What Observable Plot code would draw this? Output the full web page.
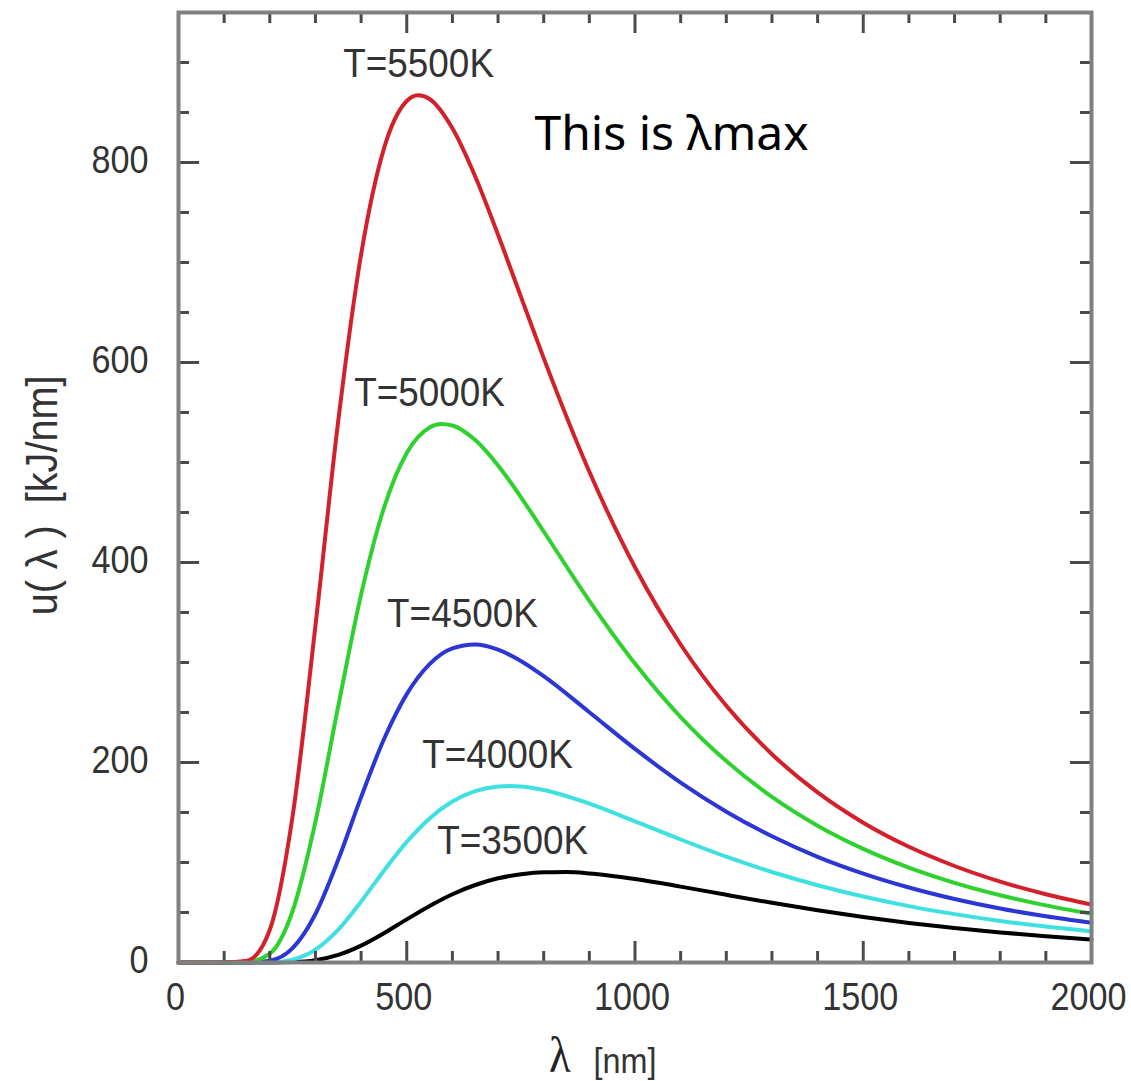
<!DOCTYPE html>
<html><head><meta charset="utf-8">
<script src="https://cdn.jsdelivr.net/npm/d3@7"></script>
<script src="https://cdn.jsdelivr.net/npm/@observablehq/plot@0.6"></script>
<style>body{margin:0;background:#fff} #chart{width:1131px;height:1081px;overflow:hidden}</style>
</head><body><div id="chart"></div>
<script>
// wavelength grid (nm)
const lambda = [0,100,150,200,250,300,350,400,450,500,550,600,650,700,750,800,900,1000,1100,1200,1300,1400,1500,1600,1700,1800,1900,2000];
// spectral energy density u(λ) [kJ/nm]
const u5500 = [0,0,1.8,32.7,146.5,336.8,541.9,708.0,813.9,861.5,863.5,834.2,786.0,727.7,665.9,604.4,490.8,395.2,318.0,256.7,208.3,170.1,139.8,115.7,96.5,80.9,68.3,58.0];
const u5000 = [0,0,0.3,8.8,51.5,140.8,256.5,367.9,454.5,509.5,535.0,537.0,522.4,497.0,465.4,431.0,361.7,298.9,245.4,201.4,165.6,136.8,113.6,94.8,79.6,67.2,57.1,48.7];
const u4500 = [0,0,0,1.8,14.3,48.5,102.9,165.4,223.2,268.4,298.4,314.1,318.0,312.9,301.6,286.4,250.3,213.6,179.9,150.8,126.2,105.7,88.9,75.0,63.5,54.0,46.2,39.7];
const u4000 = [0,0,0,0.2,2.9,12.8,32.8,60.9,91.8,120.6,144.1,161.0,171.4,176.0,176.0,172.5,158.9,141.2,123.0,105.8,90.5,77.3,66.0,56.4,48.4,41.6,35.9,31.1];
const u3500 = [0,0,0,0,0.4,2.3,7.6,16.9,29.3,43.1,56.5,68.3,77.5,84.2,88.3,90.3,89.1,83.5,75.9,67.7,59.7,52.2,45.5,39.6,34.5,30.1,26.3,23.0];
// extra points read at the peaks
const peakT = ["T=5500K","T=5000K","T=4000K","T=3500K"];
const peakLambda = [525,575,725,850];
const peakU = [867.2,538.5,176.5,90.4];

const seriesNames = ["T=3500K","T=4000K","T=4500K","T=5000K","T=5500K"];
const seriesValues = [u3500,u4000,u4500,u5000,u5500];
const seriesColors = ["#000000","#3ee0e2","#2b36d4","#2fd12f","#d2212b"];
const labelLambda = [732,699,622,550,526];

const xMajor = [0,500,1000,1500,2000];
const xMinor = [100,200,300,400,600,700,800,900,1100,1200,1300,1400,1600,1700,1800,1900];
const yMajor = [0,200,400,600,800];
const yMinor = [50,100,150,250,300,350,450,500,550,650,700,750,850,900];

const W = 1131, H = 1081, mL = 178, mR = 40, mT = 12, mB = 119;
const innerW = W - mL - mR, innerH = H - mT - mB;
const majorLen = 21, minorLen = 11;
const tickStyle = {stroke: "#4a4a4a", strokeWidth: 3};
const sans = "'Liberation Sans', Arial, Helvetica, sans-serif";

const curves = seriesNames.map((name, k) => {
  const pts = lambda.map((l, i) => ({x: l, y: seriesValues[k][i]}));
  peakT.forEach((t, j) => { if (t === name) pts.push({x: peakLambda[j], y: peakU[j]}); });
  pts.sort((a, b) => a.x - b.x);
  return pts;
});

const labels = seriesNames.map((name, k) => ({
  text: name, x: labelLambda[k], y: d3.max(curves[k], d => d.y)
}));

const marks = [];
curves.forEach((pts, k) => {
  marks.push(Plot.line(pts, {x: "x", y: "y", stroke: seriesColors[k], strokeWidth: 4, curve: "monotone-x"}));
});
// inward ticks on four sides
marks.push(Plot.tickX(xMinor, {x: d => d, insetTop: innerH - minorLen, ...tickStyle}));
marks.push(Plot.tickX(xMajor, {x: d => d, insetTop: innerH - majorLen, ...tickStyle}));
marks.push(Plot.tickX(xMinor, {x: d => d, insetBottom: innerH - minorLen, ...tickStyle}));
marks.push(Plot.tickX(xMajor, {x: d => d, insetBottom: innerH - majorLen, ...tickStyle}));
marks.push(Plot.tickY(yMinor, {y: d => d, insetRight: innerW - minorLen, ...tickStyle}));
marks.push(Plot.tickY(yMajor, {y: d => d, insetRight: innerW - majorLen, ...tickStyle}));
marks.push(Plot.tickY(yMinor, {y: d => d, insetLeft: innerW - minorLen, ...tickStyle}));
marks.push(Plot.tickY(yMajor, {y: d => d, insetLeft: innerW - majorLen, ...tickStyle}));
marks.push(Plot.frame({stroke: "#808080", strokeWidth: 4}));
// tick labels
marks.push(Plot.axisX(xMajor, {anchor: "bottom", tickSize: 0, tickPadding: 21, tickFormat: d => String(d), fontSize: 38, fontFamily: sans, fill: "#333", label: null, dx: -3}));
marks.push(Plot.axisY(yMajor, {anchor: "left", tickSize: 0, tickPadding: 30, tickFormat: d => String(d), fontSize: 38, fontFamily: sans, fill: "#333", label: null, dy: -2}));
// axis titles
marks.push(Plot.text(["u( λ )  [kJ/nm]"], {frameAnchor: "left", textAnchor: "middle", rotate: -90, dx: -136, dy: 8, fontSize: 44, fontFamily: sans, fill: "#333"}));
marks.push(Plot.text(["λ"], {frameAnchor: "bottom", textAnchor: "middle", dx: -75, dy: 109, lineAnchor: "bottom", fontSize: 50, fontFamily: "'Liberation Serif', 'DejaVu Serif', serif", fill: "#222"}));
marks.push(Plot.text(["[nm]"], {frameAnchor: "bottom", textAnchor: "middle", dx: -10, dy: 110, lineAnchor: "bottom", fontSize: 36, fontFamily: sans, fill: "#333"}));
// curve labels
marks.push(Plot.text(labels, {x: "x", y: "y", text: "text", dy: -31, fontSize: 41, fontFamily: sans, fill: "#333"}));
// annotation
marks.push(Plot.text(["This is λmax"], {frameAnchor: "top-left", dx: 356, dy: 137, textAnchor: "start", lineAnchor: "bottom", fontSize: 48, fontFamily: "'Noto Sans', 'Open Sans', sans-serif", fill: "#000"}));

const plot = Plot.plot({
  width: W, height: H,
  marginLeft: mL, marginRight: mR, marginTop: mT, marginBottom: mB,
  x: {domain: [0, 2000], axis: null},
  y: {domain: [0, 950], axis: null},
  style: {background: "#fff", fontFamily: sans},
  marks
});

// horizontally condense the Helvetica-like texts around their anchor, as in the reference
plot.querySelectorAll("text").forEach(t => {
  if (t.textContent.startsWith("This")) return;
  const tr = t.getAttribute("transform") || "";
  t.setAttribute("transform", `${tr} scale(0.9,1)`);
});
document.getElementById("chart").appendChild(plot);
</script>
</body></html>
